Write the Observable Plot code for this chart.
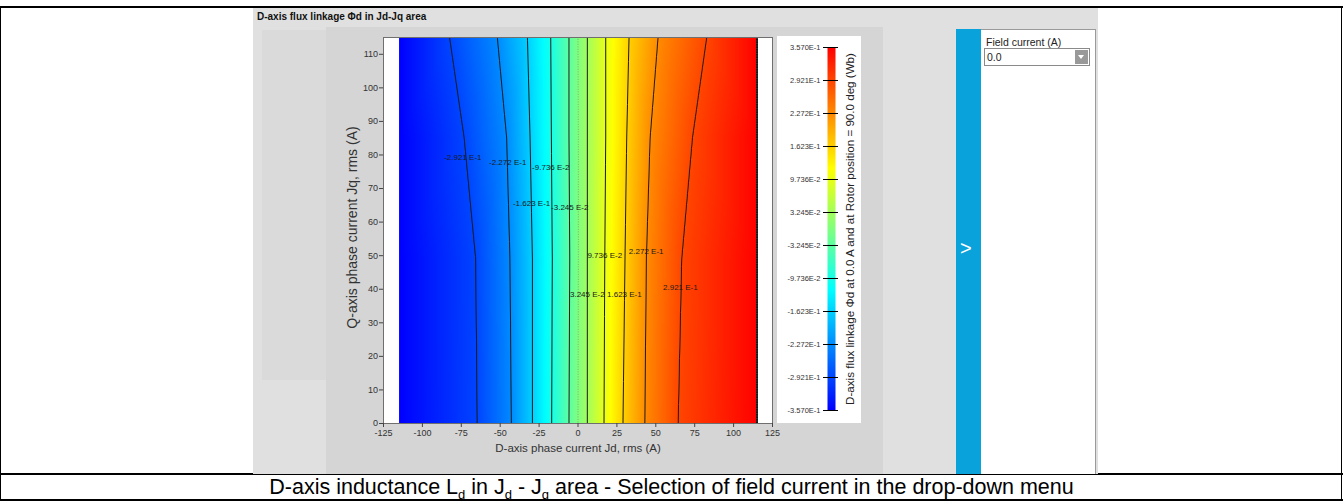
<!DOCTYPE html>
<html><head><meta charset="utf-8">
<script src="https://cdn.jsdelivr.net/npm/d3@7"></script>
<script src="https://cdn.jsdelivr.net/npm/@observablehq/plot@0.6"></script>
<style>
html,body{margin:0;padding:0;}
body{width:1343px;height:501px;position:relative;overflow:hidden;background:#fff;font-family:"Liberation Sans",Arial,sans-serif;}
.abs{position:absolute;}
</style></head><body>
<!-- document table frame -->
<div class="abs" style="left:0;top:6px;width:1343px;height:2px;background:#000"></div>
<div class="abs" style="left:0;top:6px;width:1px;height:495px;background:#000"></div>
<div class="abs" style="left:1341px;top:6px;width:1px;height:495px;background:#000"></div>
<div class="abs" style="left:0;top:473px;width:1343px;height:2px;background:#000"></div>
<div class="abs" style="left:0;top:499px;width:1343px;height:2px;background:#000"></div>
<!-- screenshot backgrounds -->
<div class="abs" style="left:253px;top:8px;width:845px;height:466px;background:#e0e0e0"></div>
<div class="abs" style="left:262px;top:30px;width:64px;height:350px;background:#dadada"></div>
<div class="abs" style="left:326px;top:27px;width:557px;height:447px;background:#d5d5d5"></div>
<div class="abs" style="left:257px;top:11px;font-weight:bold;font-size:10px;color:#111;white-space:nowrap">D-axis flux linkage Φd in Jd-Jq area</div>
<div id="main" class="abs" style="left:326px;top:27px;width:460px;height:447px"></div>
<div id="cbar" class="abs" style="left:777px;top:36px;width:84px;height:387px;background:#fff"></div>
<!-- right panel -->
<div class="abs" style="left:956px;top:29px;width:25px;height:445px;background:#0aa2db"></div>
<div class="abs" style="left:960px;top:238px;font-size:20px;color:#fff;line-height:20px">&gt;</div>
<div class="abs" style="left:981px;top:29px;width:115px;height:445px;background:#fff;border-top:1px solid #9a9a9a;border-right:1px solid #9a9a9a;box-sizing:border-box"></div>
<div class="abs" style="left:986px;top:36px;font-size:10.5px;color:#222;white-space:nowrap">Field current (A)</div>
<div class="abs" style="left:984px;top:48px;width:106px;height:18px;border:1px solid #8a8a8a;box-sizing:border-box;background:#fff"></div>
<div class="abs" style="left:987px;top:51px;font-size:10.5px;color:#222">0.0</div>
<div class="abs" style="left:1075px;top:50px;width:13px;height:14px;background:#999"></div>
<div class="abs" style="left:1078px;top:55px;width:0;height:0;border-left:3.5px solid transparent;border-right:3.5px solid transparent;border-top:4px solid #fff"></div>
<!-- caption -->
<div class="abs" style="left:0;top:475px;width:1343px;text-align:center;font-size:21.5px;line-height:24px;color:#000;white-space:nowrap">D-axis inductance L<sub style="font-size:13px;line-height:0">d</sub> in J<sub style="font-size:13px;line-height:0">d</sub> - J<sub style="font-size:13px;line-height:0">q</sub> area - Selection of field current in the drop-down menu</div>
<script>
// ---- data ----
const levels = [-0.2921, -0.2272, -0.1623, -0.09736, -0.03245, 0.03245, 0.09736, 0.1623, 0.2272, 0.2921];
const jqRows = [0, 49, 85, 115];
// Jd position (A) of each contour level, per Jq row
const jdRow0   = [-64.7, -42.8, -29.3, -16.9, -5.8, 6.0, 16.7, 28.9, 42.9, 64.3];
const jdRow49  = [-65.7, -43.7, -29.3, -16.5, -5.3, 6.0, 17.2, 30.2, 43.9, 66.6];
const jdRow85  = [-73.1, -45.8, -30.8, -17.1, -5.8, 6.0, 17.8, 31.3, 46.3, 73.5];
const jdRow115 = [-82.5, -51.8, -32.5, -17.5, -5.8, 6.0, 17.8, 32.8, 51.4, 82.7];
const zeroJd = [0.0, 0.2, 0.2, 0.0];
const jdMin = -115, jdMax = 115, fluxMin = -0.357, fluxMax = 0.357;
const xTicks = [-125, -100, -75, -50, -25, 0, 25, 50, 75, 100, 125];
const yTicks = [0, 10, 20, 30, 40, 50, 60, 70, 80, 90, 100, 110];
const cbTickValues = [-0.357, -0.2921, -0.2272, -0.1623, -0.09736, -0.03245, 0.03245, 0.09736, 0.1623, 0.2272, 0.2921, 0.357];
const cbTickLabels = ["-3.570E-1", "-2.921E-1", "-2.272E-1", "-1.623E-1", "-9.736E-2", "-3.245E-2", "3.245E-2", "9.736E-2", "1.623E-1", "2.272E-1", "2.921E-1", "3.570E-1"];
const labelTexts = ["-2.921 E-1", "-2.272 E-1", "-9.736 E-2", "-1.623 E-1", "-3.245 E-2", "9.736 E-2", "2.272 E-1", "3.245 E-2", "1.623 E-1", "2.921 E-1"];
const labelJd = [-74, -45.2, -17.5, -29.8, -5.3, 17.2, 43.8, 6.0, 29.8, 65.8];
const labelJq = [79.4, 77.9, 76.4, 65.5, 64.5, 50, 51.3, 38.5, 38.5, 40.5];
const xLabel = "D-axis phase current Jd, rms (A)";
const yLabel = "Q-axis phase current Jq, rms (A)";
const cbTitle = "D-axis flux linkage Φd at 0.0 A and at Rotor position = 90.0 deg (Wb)";

// ---- build tables ----
const jdRows = [jdRow0, jdRow49, jdRow85, jdRow115];
const pts = [];
jqRows.forEach((jq, r) => {
  pts.push({jd: jdMin, jq, v: fluxMin});
  levels.forEach((lv, k) => {
    pts.push({jd: jdRows[r][k], jq, v: lv});
    if (k === 4) pts.push({jd: zeroJd[r], jq, v: 0});
  });
  pts.push({jd: jdMax, jq, v: fluxMax});
});
const contourLabels = labelTexts.map((t, i) => ({text: t, jd: labelJd[i], jq: labelJq[i]}));
const cbLabelMap = new Map(cbTickValues.map((v, i) => [v, cbTickLabels[i]]));

const colorScale = {
  type: "linear",
  domain: [fluxMin, fluxMin + (fluxMax - fluxMin) / 3, fluxMin + 2 * (fluxMax - fluxMin) / 3, fluxMax],
  range: ["#0000ff", "#00ffff", "#ffff00", "#ff0000"],
  interpolate: "rgb"
};
const font = "'Liberation Sans', Arial, sans-serif";
const bounds = {x1: jdMin, x2: jdMax, y1: 0, y2: 115};

const main = Plot.plot({
  width: 460, height: 447,
  marginLeft: 57, marginRight: 14, marginTop: 10, marginBottom: 51,
  style: {background: "transparent", fontFamily: font, color: "#333", overflow: "visible"},
  x: {domain: [-125, 125], axis: null},
  y: {domain: [0, 115], axis: null},
  color: colorScale,
  marks: [
    Plot.frame({fill: "white"}),
    Plot.raster(pts, {x: "jd", y: "jq", fill: "v", interpolate: "barycentric", ...bounds}),
    Plot.contour(pts, {x: "jd", y: "jq", value: "v", interpolate: "barycentric", ...bounds, pixelSize: 1,
      thresholds: levels, stroke: "#1a1a1a", strokeWidth: 1, fill: "none"}),
    Plot.contour(pts, {x: "jd", y: "jq", value: "v", interpolate: "barycentric", ...bounds, pixelSize: 1,
      thresholds: [0], stroke: "#777", strokeOpacity: 0.6, strokeWidth: 1, strokeDasharray: "1,1.5", fill: "none"}),
    Plot.text(contourLabels, {x: "jd", y: "jq", text: "text", fontSize: 8, fill: "#1a1a1a"}),
    Plot.frame({stroke: "#6f6f6f"}),
    Plot.axisX({ticks: xTicks, tickFormat: d => `${d}`, tickSize: 4, tickPadding: 2, fontSize: 9, label: null, stroke: "#444"}),
    Plot.axisY({ticks: yTicks, tickFormat: d => `${d}`, tickSize: 4, tickPadding: 1.5, fontSize: 9, label: null, stroke: "#444"}),
    Plot.text([xLabel], {frameAnchor: "bottom", dy: 28, fontSize: 11.5, fill: "#333"}),
    Plot.text([yLabel], {frameAnchor: "left", textAnchor: "middle", dx: -31, dy: -3, rotate: -90, fontSize: 14, fill: "#333"})
  ]
});
document.getElementById("main").appendChild(main);

const cbar = Plot.plot({
  width: 84, height: 387,
  marginLeft: 50, marginRight: 26, marginTop: 11, marginBottom: 13,
  style: {background: "transparent", fontFamily: font, color: "#333", overflow: "visible"},
  x: {domain: [0, 1], axis: null},
  y: {domain: [fluxMin, fluxMax], axis: null},
  color: colorScale,
  marks: [
    Plot.raster({fill: (x, y) => y, x1: 0, x2: 1, y1: fluxMin, y2: fluxMax, width: 1, height: 363}),
    Plot.tickY(cbTickValues, {y: d => d, stroke: "#000", insetLeft: -4, insetRight: -3}),
    Plot.axisY({ticks: cbTickValues, tickFormat: d => cbLabelMap.get(d), tickSize: 0, tickPadding: 7, fontSize: 7.5, label: null}),
    Plot.text([cbTitle], {frameAnchor: "right", textAnchor: "middle", dx: 15, rotate: -90, fontSize: 11.6, fill: "#222"})
  ]
});
document.getElementById("cbar").appendChild(cbar);
</script>
</body></html>
